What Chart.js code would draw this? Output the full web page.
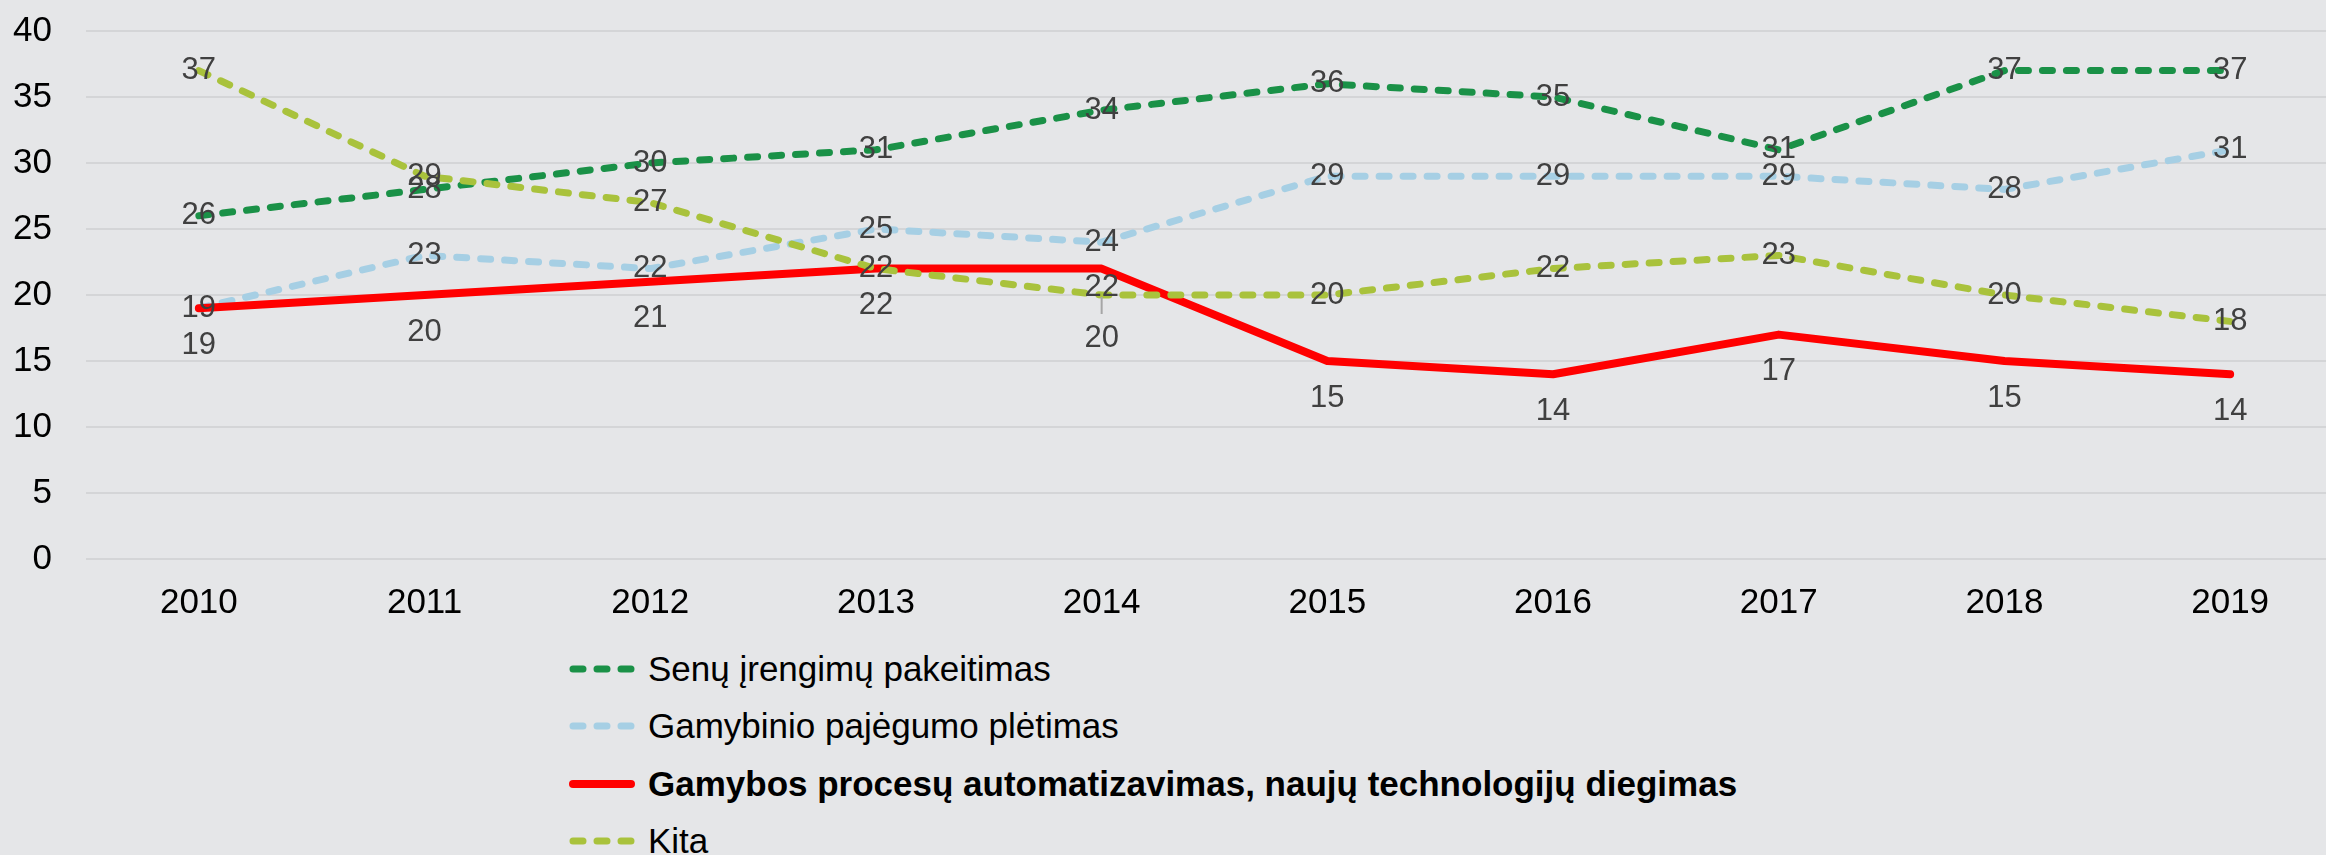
<!DOCTYPE html>
<html lang="lt">
<head>
<meta charset="utf-8">
<title>Investicijų tikslai 2010–2019</title>
<script src="https://cdn.jsdelivr.net/npm/chart.js@4/dist/chart.umd.min.js"></script>
<style>
  html, body { margin: 0; padding: 0; background: #e5e6e8; overflow: hidden; }
  body { width: 2326px; height: 855px; position: relative; font-family: "Liberation Sans", Arial, sans-serif; }
  .chart-box { position: absolute; left: 0; top: -24px; width: 2346px; height: 654px; }
  .legend { position: absolute; left: 568px; top: 640px; }
  .legend-row { display: flex; align-items: center; height: 57.5px; font-size: 35px; color: #000; white-space: nowrap; }
  .legend-row svg { width: 68px; height: 12px; margin-right: 12px; flex: none; }
  .legend-row.bold { font-weight: bold; }
</style>
</head>
<body>
<div class="chart-box"><canvas id="trendChart"></canvas></div>
<div class="legend" id="legend"></div>

<script>
// ── Data ──────────────────────────────────────────────────────────────
const years = ['2010', '2011', '2012', '2013', '2014', '2015', '2016', '2017', '2018', '2019'];

const senuIrengimuPakeitimas  = [26, 28, 30, 31, 34, 36, 35, 31, 37, 37];
const gamybinioPajegumoPletra = [19, 23, 22, 25, 24, 29, 29, 29, 28, 31];
const automatizavimas         = [19, 20, 21, 22, 22, 15, 14, 17, 15, 14];
const kita                    = [37, 29, 27, 22, 20, 20, 22, 23, 20, 18];

const yMin  = 0;
const yMax  = 40;
const yStep = 5;

// ── Value labels (no datalabels plugin offline) ───────────────────────
// labelOffset: default vertical shift of a series' labels,
// labelShift: per-point override (index -> px), leader: draw a connector line
const valueLabels = {
  id: 'valueLabels',
  afterDatasetsDraw(chart) {
    const ctx = chart.ctx;
    ctx.save();
    ctx.font = '31px "Liberation Sans", Arial, sans-serif';
    ctx.textAlign = 'center';
    ctx.textBaseline = 'middle';
    chart.data.datasets.forEach((ds, i) => {
      const meta = chart.getDatasetMeta(i);
      const shifts = ds.labelShift || {};
      meta.data.forEach((pt, j) => {
        const dy = j in shifts ? shifts[j] : (ds.labelOffset || 0);
        if (ds.leader && ds.leader.includes(j)) {
          ctx.strokeStyle = '#a6a6a6';
          ctx.lineWidth = 2;
          ctx.beginPath();
          ctx.moveTo(pt.x, pt.y + 2);
          ctx.lineTo(pt.x, pt.y + dy - 24);
          ctx.stroke();
        }
        ctx.fillStyle = '#404040';
        ctx.fillText(String(ds.data[j]), pt.x, pt.y + dy);
      });
    });
    ctx.restore();
  },
};

const dashed = [10, 14];

const series = [
  { label: 'Senų įrengimų pakeitimas', data: senuIrengimuPakeitimas, color: '#1a9147', width: 7, dash: dashed, order: 4 },
  { label: 'Gamybinio pajėgumo plėtimas', data: gamybinioPajegumoPletra, color: '#a6cfe4', width: 7, dash: dashed, order: 3 },
  { label: 'Gamybos procesų automatizavimas, naujų technologijų diegimas', data: automatizavimas, color: '#ff0000', width: 8, dash: [], order: 2,
    labelOffset: 37, labelShift: { 4: 19 }, bold: true },
  { label: 'Kita', data: kita, color: '#a9c23c', width: 7, dash: dashed, order: 1,
    labelShift: { 4: 43 }, leader: [4] },
];

Chart.defaults.font.family = '"Liberation Sans", Arial, sans-serif';

new Chart(document.getElementById('trendChart'), {
  type: 'line',
  data: {
    labels: years,
    datasets: series.map(s => ({
      label: s.label,
      data: s.data,
      borderColor: s.color,
      backgroundColor: s.color,
      borderWidth: s.width,
      borderDash: s.dash,
      borderCapStyle: 'round',
      borderJoinStyle: 'round',
      pointRadius: 0,
      tension: 0,
      fill: false,
      order: s.order,
      labelOffset: s.labelOffset || 0,
      labelShift: s.labelShift,
      leader: s.leader,
    })),
  },
  options: {
    responsive: true,
    maintainAspectRatio: false,
    animation: false,
    layout: { padding: { top: 5, left: 13, right: 3, bottom: 4 } },
    plugins: {
      legend: { display: false },
      tooltip: { enabled: false },
    },
    scales: {
      x: {
        offset: true,
        grid: { display: false, drawTicks: false },
        border: { display: false },
        ticks: { color: '#000', font: { size: 35 }, padding: 23, maxRotation: 0 },
        afterFit: scale => { scale.height = 67; },
      },
      y: {
        min: yMin,
        max: yMax,
        grid: { color: '#d4d5d7', lineWidth: 2, drawTicks: false },
        border: { display: false },
        ticks: { stepSize: yStep, color: '#000', font: { size: 35 }, padding: 34 },
        afterFit: scale => { scale.width = 73; },
      },
    },
  },
  plugins: [valueLabels],
});

// ── HTML legend (vertical list, left-aligned) ─────────────────────────
const legendEl = document.getElementById('legend');
series.forEach(s => {
  const row = document.createElement('div');
  row.className = 'legend-row' + (s.bold ? ' bold' : '');
  const dashAttr = s.dash.length ? `stroke-dasharray="${s.dash.join(' ')}"` : '';
  row.innerHTML = `
    <svg viewBox="0 0 68 12"><line x1="5" y1="6" x2="63" y2="6" stroke="${s.color}"
      stroke-width="${s.width}" stroke-linecap="round" ${dashAttr}/></svg>
    <span>${s.label}</span>`;
  legendEl.appendChild(row);
});
</script>
</body>
</html>
